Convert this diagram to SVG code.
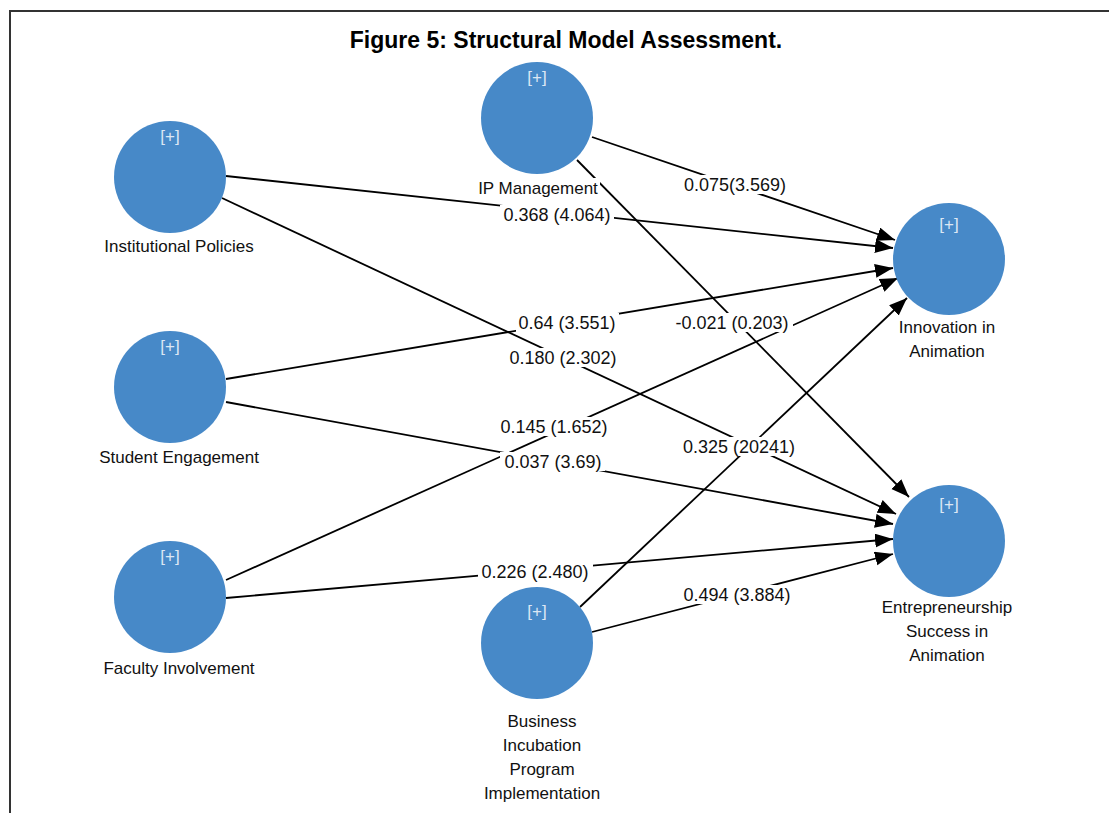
<svg xmlns="http://www.w3.org/2000/svg" width="1109" height="813" viewBox="0 0 1109 813">
<style>
.node{fill:#4789C8;}
.plus{font-family:"Liberation Sans",Arial,sans-serif;font-size:17px;fill:#DCE7F4;text-anchor:middle;}
.nl{font-family:"Liberation Sans",Arial,sans-serif;font-size:17px;fill:#111;text-anchor:middle;}
.el{font-family:"Liberation Sans",Arial,sans-serif;font-size:18px;fill:#111;text-anchor:middle;}
.bg{fill:#fff;}
.edge{stroke:#000;stroke-width:1.8;fill:none;marker-end:url(#arr);}
.title{font-family:"Liberation Sans",Arial,sans-serif;font-size:23px;font-weight:bold;fill:#000;text-anchor:middle;}
</style>
<defs>
<marker id="arr" markerUnits="userSpaceOnUse" markerWidth="20" markerHeight="16" refX="18" refY="7" orient="auto">
<path d="M0,0 L18,7 L0,14 z" fill="#000"/>
</marker>
</defs>
<rect x="0" y="0" width="1109" height="813" fill="#fff"/>
<path d="M10,813 L10,11 L1109,11" stroke="#333" stroke-width="2" fill="none"/>
<text class="title" x="566" y="48">Figure 5: Structural Model Assessment.</text>

<g id="connectors">
<line class="edge" x1="592" y1="137" x2="895" y2="240"/>
<line class="edge" x1="577" y1="160" x2="909" y2="497"/>
<line class="edge" x1="226" y1="176" x2="893" y2="248"/>
<line class="edge" x1="222" y1="198" x2="896" y2="514"/>
<line class="edge" x1="226" y1="379" x2="893" y2="268"/>
<line class="edge" x1="226" y1="402" x2="893" y2="524"/>
<line class="edge" x1="226" y1="580" x2="898" y2="278"/>
<line class="edge" x1="226" y1="598" x2="893" y2="539"/>
<line class="edge" x1="580" y1="607" x2="907" y2="298"/>
<line class="edge" x1="592" y1="632" x2="893" y2="554"/>
<g id="edge-labels">
<rect class="bg" x="681" y="175" width="108" height="19"/><text class="el" x="735" y="191">0.075(3.569)</text>
<rect class="bg" x="500" y="205" width="114" height="19"/><text class="el" x="557" y="221">0.368 (4.064)</text>
<rect class="bg" x="516" y="313" width="103" height="19"/><text class="el" x="567" y="329">0.64 (3.551)</text>
<rect class="bg" x="672" y="313" width="121" height="19"/><text class="el" x="732" y="329">-0.021 (0.203)</text>
<rect class="bg" x="507" y="348" width="113" height="19"/><text class="el" x="563" y="364">0.180 (2.302)</text>
<rect class="bg" x="497" y="417" width="114" height="19"/><text class="el" x="554" y="433">0.145 (1.652)</text>
<rect class="bg" x="680" y="437" width="119" height="19"/><text class="el" x="739" y="453">0.325 (20241)</text>
<rect class="bg" x="500" y="452" width="105" height="19"/><text class="el" x="553" y="468">0.037 (3.69)</text>
<rect class="bg" x="478" y="562" width="115" height="19"/><text class="el" x="535" y="578">0.226 (2.480)</text>
<rect class="bg" x="681" y="585" width="113" height="19"/><text class="el" x="737" y="601">0.494 (3.884)</text>
</g>
</g>

<g id="institutional-policies">
<circle class="node" cx="170" cy="177" r="56"/>
<text class="plus" x="170" y="142">[+]</text>
<text class="nl" x="179" y="252">Institutional Policies</text>
</g>
<g id="ip-management">
<circle class="node" cx="537" cy="118" r="56"/>
<text class="plus" x="537" y="83">[+]</text>
<rect class="bg" x="476" y="178" width="124" height="17"/>
<text class="nl" x="538" y="194">IP Management</text>
</g>
<g id="student-engagement">
<circle class="node" cx="170" cy="387" r="56"/>
<text class="plus" x="170" y="352">[+]</text>
<text class="nl" x="179" y="463">Student Engagement</text>
</g>
<g id="faculty-involvement">
<circle class="node" cx="170" cy="597" r="56"/>
<text class="plus" x="170" y="562">[+]</text>
<text class="nl" x="179" y="674">Faculty Involvement</text>
</g>
<g id="business-incubation">
<circle class="node" cx="537" cy="643" r="56"/>
<text class="plus" x="537" y="617">[+]</text>
<text class="nl" x="542" y="727">Business</text>
<text class="nl" x="542" y="751">Incubation</text>
<text class="nl" x="542" y="775">Program</text>
<text class="nl" x="542" y="799">Implementation</text>
</g>
<g id="innovation-in-animation">
<circle class="node" cx="949" cy="259" r="56"/>
<text class="plus" x="949" y="230">[+]</text>
<text class="nl" x="947" y="333">Innovation in</text>
<text class="nl" x="947" y="357">Animation</text>
</g>
<g id="entrepreneurship-success">
<circle class="node" cx="949" cy="541" r="56"/>
<text class="plus" x="949" y="510">[+]</text>
<text class="nl" x="947" y="613">Entrepreneurship</text>
<text class="nl" x="947" y="637">Success in</text>
<text class="nl" x="947" y="661">Animation</text>
</g>
</svg>
